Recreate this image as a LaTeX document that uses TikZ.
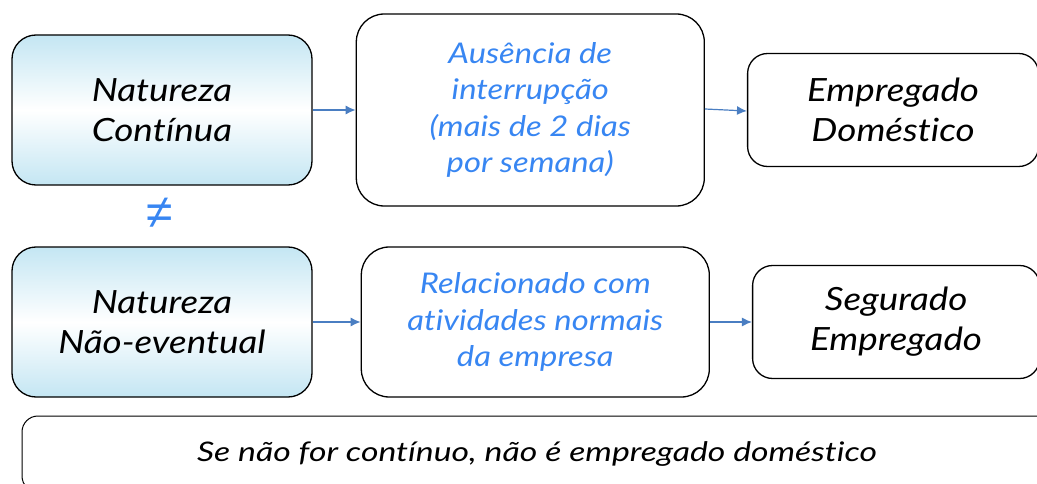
\documentclass[tikz,border=0pt]{standalone}
\usepackage{fontspec}
\setmainfont{Lato}[FakeStretch=1.15, Ligatures=CommonOff]
\newfontfamily\notafonte{Lato}[FakeStretch=1.25, Ligatures=CommonOff]
\newfontfamily\simbolo{Liberation Sans}
\usetikzlibrary{shapes}
\usetikzlibrary{arrows}
\usetikzlibrary{arrows.meta}
\usetikzlibrary{positioning}
\usetikzlibrary{calc}
\definecolor{caixaazul}{RGB}{196,230,243}
\definecolor{textoazul}{RGB}{56,134,242}
\definecolor{setaazul}{RGB}{74,126,194}

\begin{document}
\begin{tikzpicture}[x=1pt,y=-1pt,node distance=42pt,auto]
        \clip (0,0) rectangle (1037,484);
        \tikzstyle{every node}=[align=center, font=\itshape]
        \tikzstyle{natureza}=[draw, line width=1.3pt, rounded corners=24pt, minimum width=300pt, minimum height=150pt, top color=caixaazul, bottom color=caixaazul, middle color=white, font=\itshape\fontsize{32}{40}\selectfont]
        \tikzstyle{criterio}=[draw, line width=1.3pt, rounded corners=28pt, minimum width=348pt, text=textoazul, font=\itshape\fontsize{28.5}{36.5}\selectfont]
        \tikzstyle{resultado}=[draw, line width=1.3pt, rounded corners=20pt, minimum height=113pt, font=\itshape\fontsize{32}{40}\selectfont]
        \tikzstyle{seta}=[-{Latex[length=10pt,width=9pt]}, draw=setaazul, line width=1.2pt]
        % linha de cima
        \node[natureza] (natcont) at (162,110) {Natureza\\ Contínua};
        \node[criterio, minimum height=192pt, right=43pt of natcont] (ausencia) {Ausência de\\ interrupção\\ (mais de 2 dias\\ por semana)};
        \node[resultado, minimum width=291pt, right=42pt of ausencia] (empdom) {Empregado\\ Doméstico};
        \node[text=textoazul, font=\simbolo\fontsize{48}{48}\selectfont] (difere) at (160,213) {≠};
        % linha de baixo
        \node[natureza] (natnev) at (162,322) {Natureza\\ Não-eventual};
        \node[criterio, minimum height=150pt, right=48pt of natnev] (relacion) {Relacionado com\\ atividades normais\\ da empresa};
        \node[resultado, minimum width=287pt, right=42pt of relacion] (segemp) {Segurado\\ Empregado};
        \node[draw, line width=1pt, rounded corners=16pt, minimum width=1030pt, minimum height=76pt, font=\notafonte\itshape\fontsize{27}{30}\selectfont] (nota) at (537,454) {Se não for contínuo, não é empregado doméstico};
        \path [seta] (natcont) -- (ausencia);
        \path [seta] (ausencia.east |- 0,109) -- (empdom.west |- 0,111);
        \path [seta] (natnev) -- (relacion);
        \path [seta] (relacion) -- (segemp);
      \end{tikzpicture}
\end{document}
